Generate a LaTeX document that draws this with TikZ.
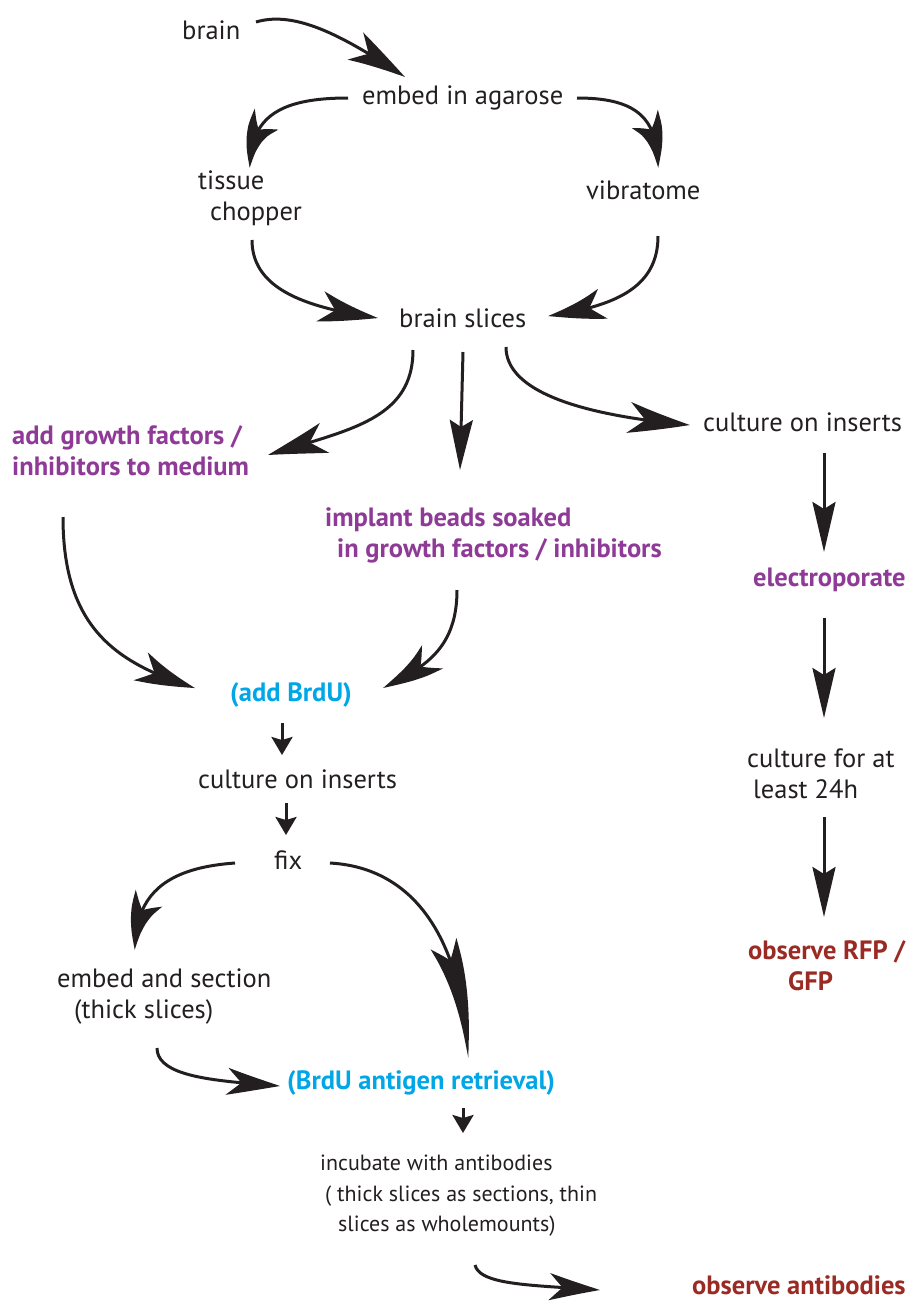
\documentclass[tikz,border=0pt]{standalone}
\usepackage{fontspec}
\setmainfont{PT Sans}
\usetikzlibrary{arrows.meta,bending}
\definecolor{ink}{HTML}{231F20}
\definecolor{vio}{HTML}{8E3A96}
\definecolor{sky}{HTML}{00A6E6}
\definecolor{brick}{HTML}{9A2A24}
\begin{document}
\begin{tikzpicture}[x=1pt,y=1pt,
  txt/.style={inner sep=0pt, anchor=west, align=left, text=ink,
    font=\fontsize{26.5}{31}\selectfont},
  smalltxt/.style={txt, font=\fontsize{22}{30.5}\selectfont},
  hot/.style={txt, font=\fontsize{26.5}{31}\bfseries\selectfont, text=#1},
  conn/.style={draw=ink, line width=3pt},
  bigarr/.style={conn, -{Stealth[length=62pt, width=31pt, inset=17pt, bend]}},
  longarr/.style={conn, -{Stealth[length=130pt, width=28pt, inset=22pt, bend]}},
  medarr/.style={conn, -{Stealth[length=54pt, width=27pt, inset=15pt, bend]}},
  straightarr/.style={draw=ink, line width=3pt, -{Stealth[length=50pt, width=23pt, inset=7pt]}},
  smallarr/.style={draw=ink, line width=3pt, -{Stealth[length=18pt, width=21pt, inset=3pt]}},
]
\useasboundingbox (0,0) rectangle (916,-1310);

% --- labels ---
\node[txt] (brain) at (182,-30) {brain};
\node[txt] (embed) at (362,-98) {embed in agarose};
\node[txt] (tissue) at (198,-198.5) {tissue\\\hspace*{12pt}chopper};
\node[txt] (vibr) at (586,-190) {vibratome};
\node[txt] (slices) at (399,-318) {brain slices};
\node[hot=vio] (addgf) at (12,-450.5) {add growth factors /\\inhibitors to medium};
\node[hot=vio] (implant) at (325,-535) {implant beads soaked\\\hspace*{12pt}in growth factors / inhibitors};
\node[txt] (insR) at (703,-422) {culture on inserts};
\node[hot=vio] (electro) at (753,-580) {electroporate};
\node[txt] (cult) at (747,-773.5) {culture for at\\\hspace*{6pt}least 24h};
\node[hot=brick] (rfp) at (748,-965.5) {observe RFP /\\\hspace*{40pt}GFP};
\node[hot=sky] (brdu) at (230,-695) {(add BrdU)};
\node[txt] (insL) at (198,-779) {culture on inserts};
\node[txt] (fix) at (274,-860) {fix};
\node[txt] (section) at (57,-996.5) {embed and section\\\hspace*{17pt}(thick slices)};
\node[hot=sky] (antigen) at (287,-1083) {(BrdU antigen retrieval)};
\node[smalltxt] (incub) at (320,-1196) {incubate with antibodies\\\hspace*{5pt}( thick slices as sections, thin\\\hspace*{18pt}slices as wholemounts)};
\node[hot=brick] (obsab) at (692,-1285) {observe antibodies};

% --- preparation loop ---
\draw[bigarr] ([shift={(74,8)}]brain.west) .. controls +(40,12) and +(-60,40) .. ([shift={(43,21)}]embed.west);
\draw[bigarr] ([shift={(-14,0)}]embed.west) .. controls +(-70,0) and +(0,50) .. ([shift={(52,30.5)}]tissue.west);
\draw[bigarr] ([shift={(215,0)}]embed.west) .. controls +(60,0) and +(0,50) .. ([shift={(72,22)}]vibr.west);
\draw[bigarr] ([shift={(54,-41.5)}]tissue.west) .. controls +(0,-50) and +(-70,10) .. ([shift={(-21,0)}]slices.west);
\draw[bigarr] ([shift={(72,-46)}]vibr.west) .. controls +(0,-50) and +(70,10) .. ([shift={(149,2)}]slices.west);

% --- three branches from the slices ---
\draw[bigarr] ([shift={(14,-32)}]slices.west) .. controls +(0,-70) and +(80,25) .. ([shift={(256,-4.5)}]addgf.west);
\draw[straightarr] ([shift={(64,-34)}]slices.west) -- ([shift={(135,65)}]implant.west);
\draw[bigarr] ([shift={(107,-29)}]slices.west) .. controls +(0,-50) and +(-90,8) .. ([shift={(-13,-3)}]insR.west);

% --- electroporation column ---
\draw[straightarr] ([shift={(121,-31)}]insR.west) -- ([shift={(71,28)}]electro.west);
\draw[straightarr] ([shift={(71,-38)}]electro.west) -- ([shift={(77,55.5)}]cult.west);
\draw[straightarr] ([shift={(77,-43.5)}]cult.west) -- ([shift={(76,48.5)}]rfp.west);

% --- BrdU branch ---
\draw[bigarr] ([shift={(51,-66.5)}]addgf.west) .. controls +(0,-110) and +(-80,25) .. ([shift={(-35,7)}]brdu.west);
\draw[bigarr] ([shift={(132,-55)}]implant.west) .. controls +(0,-60) and +(40,20) .. ([shift={(153,7)}]brdu.west);
\draw[smallarr] ([shift={(52,-28)}]brdu.west) -- ([shift={(84,24)}]insL.west);
\draw[smallarr] ([shift={(88,-24)}]insL.west) -- ([shift={(12,25)}]fix.west);
\draw[bigarr] ([shift={(-39,-3)}]fix.west) .. controls +(-70,-5) and +(0,55) .. ([shift={(78,46.5)}]section.west);
\draw[longarr] ([shift={(56,-3)}]fix.west) .. controls +(90,-5) and +(-5,110) .. ([shift={(181,25)}]antigen.west);
\draw[medarr] ([shift={(100,-51.5)}]section.west) .. controls +(0,-30) and +(-60,5) .. ([shift={(-7,-3)}]antigen.west);
\draw[smallarr] ([shift={(176,-25)}]antigen.west) -- ([shift={(143,63)}]incub.west);
\draw[medarr] ([shift={(155,-69)}]incub.west) .. controls +(5,-20) and +(-70,5) .. ([shift={(-92,-5)}]obsab.west);
\end{tikzpicture}
\end{document}
